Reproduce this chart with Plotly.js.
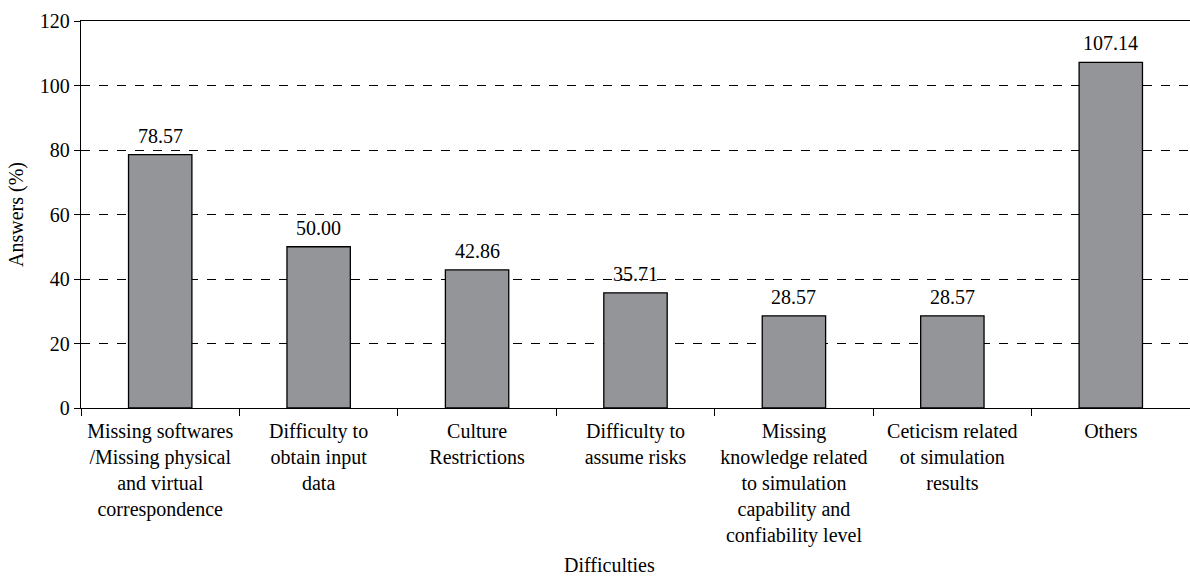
<!DOCTYPE html>
<html>
<head>
<meta charset="utf-8">
<script src="https://cdn.plot.ly/plotly-3.0.1.min.js"></script>
<style>html,body{margin:0;padding:0;background:#fff;overflow:hidden}</style>
</head>
<body>
<div id="chart" style="width:1190px;height:577px"></div>
<script>
const categories = [
  "Missing softwares<br>/Missing physical<br>and virtual<br>correspondence",
  "Difficulty to<br>obtain input<br>data",
  "Culture<br>Restrictions",
  "Difficulty to<br>assume risks",
  "Missing<br>knowledge related<br>to simulation<br>capability and<br>confiability level",
  "Ceticism related<br>ot simulation<br>results",
  "Others"
];
const answers = [78.57, 50.00, 42.86, 35.71, 28.57, 28.57, 107.14];
const yTicks = [0, 20, 40, 60, 80, 100, 120];
const xTitle = "Difficulties";
const yTitle = "Answers (%)";

const font = {family: "Liberation Serif", size: 20, color: "#000"};

const trace = {
  type: "bar",
  x: categories,
  y: answers,
  marker: {color: "#939598", line: {color: "#000", width: 1.3}},
  hoverinfo: "none"
};

const annotations = categories.map((c, i) => ({
  x: c, y: answers[i], xref: "x", yref: "y",
  text: answers[i].toFixed(2), showarrow: false,
  yanchor: "bottom", yshift: 6, font: font
}));
annotations.push({
  text: xTitle, xref: "paper", yref: "paper", x: 0.477, y: -0.406,
  xanchor: "center", yanchor: "middle", showarrow: false, font: font
});

const layout = {
  width: 1190, height: 577,
  margin: {l: 81, r: 0, t: 21, b: 169},
  paper_bgcolor: "#fff", plot_bgcolor: "#fff",
  font: font,
  showlegend: false,
  bargap: 0.6,
  annotations: annotations,
  xaxis: {
    type: "category",
    tickson: "boundaries",
    ticks: "outside", ticklen: 7, tickcolor: "#000", tickwidth: 1,
    ticklabelstandoff: 5,
    showline: true, linecolor: "#000", linewidth: 1.3, mirror: true,
    showgrid: false,
    tickfont: font,
    automargin: false
  },
  yaxis: {
    range: [0, 120],
    tickvals: yTicks,
    ticks: "outside", ticklen: 6, tickcolor: "#000", tickwidth: 1,
    showline: true, linecolor: "#000", linewidth: 1.3,
    showgrid: true, gridcolor: "#000", gridwidth: 1, griddash: "dash",
    zeroline: false,
    tickfont: font,
    title: {text: yTitle, font: font, standoff: 10},
    automargin: false
  }
};

Plotly.newPlot("chart", [trace], layout, {staticPlot: true, displayModeBar: false});
</script>
</body>
</html>
